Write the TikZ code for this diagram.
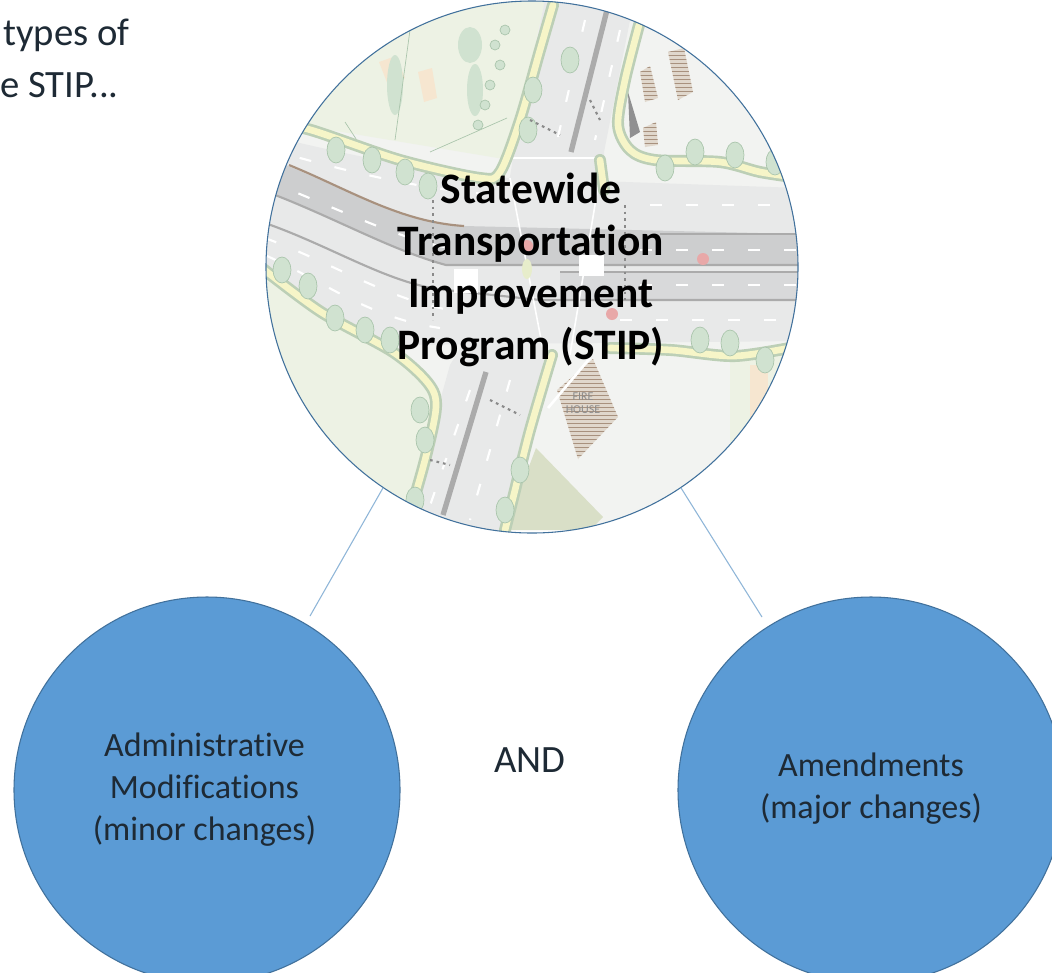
\documentclass[tikz,border=0pt]{standalone}
\usepackage{fontspec}
\setmainfont{Carlito}[Ligatures=CommonOff]
\usetikzlibrary{patterns}
\definecolor{blueA}{HTML}{5B9BD5}
\definecolor{blueB}{HTML}{41719C}
\definecolor{lineA}{HTML}{8FB6D8}
\definecolor{inkA}{HTML}{1E2A35}
\definecolor{roadA}{HTML}{E8E9E9}
\definecolor{roadB}{HTML}{CDCECF}
\definecolor{roadC}{HTML}{ABABAB}
\definecolor{walkA}{HTML}{F6F5C8}
\definecolor{walkB}{HTML}{BCCFB6}
\definecolor{treeA}{HTML}{D0E2D0}
\definecolor{treeB}{HTML}{A9C4AB}
\definecolor{landA}{HTML}{F2F3F1}
\definecolor{landB}{HTML}{EDF2E4}
\definecolor{landC}{HTML}{D9DFC7}
\definecolor{lotA}{HTML}{F6E6D0}
\definecolor{hatchA}{HTML}{A8917E}
\definecolor{hatchB}{HTML}{E0D7CC}
\definecolor{markA}{HTML}{8A8A8A}
\definecolor{redA}{HTML}{E8A8A8}
\newcommand{\hatchpatch}[1]{\fill[hatchB] #1; \fill[hatched] #1;}
\tikzset{
  x=0.75pt,y=-0.75pt,
  blobcircle/.style={circle,fill=blueA,draw=blueB,line width=0.8pt,minimum size=289.5pt,inner sep=0pt},
  mapcircle/.style={circle,draw=blueB,line width=0.8pt,minimum size=399pt,inner sep=0pt},
  link/.style={draw=lineA,line width=0.8pt},
  bodytext/.style={font=\fontsize{25.5}{31.5}\selectfont,text=inkA,align=center},
  plaintext/.style={font=\fontsize{29}{37.5}\selectfont,text=inkA},
  titletext/.style={font=\fontsize{32.6}{39}\selectfont\bfseries,align=center},
  walkcase/.style={draw=walkB,line width=9pt,line join=round,line cap=round},
  walkcore/.style={draw=walkA,line width=5pt,line join=round,line cap=round},
  lanedash/.style={draw=white,line width=1.6pt,dash pattern=on 9pt off 18pt},
  tree/.style={fill=treeA,draw=treeB,line width=0.5pt},
  marks/.style={draw=markA,line width=1.6pt,dash pattern=on 2pt off 3pt},
  hatched/.style={pattern=horizontal lines,pattern color=hatchA},
  edgeline/.style={draw=roadC,line width=1.6pt},
}
\begin{document}
\begin{tikzpicture}
\useasboundingbox (0,0) rectangle (1052,972);
\fill[white] (0,0) rectangle (1052,972);

% aerial plan inside the top circle
\begin{scope}
\clip (532,267) circle [radius=266];
\fill[landA] (260,0) rectangle (800,530);
\fill[landB] (260,0) -- (545,0) -- (510,160) -- (300,125) -- (260,130) -- cycle;
\fill[landB] (262,272) -- (321,312) -- (393,352) -- (430,385) -- (436,407) -- (408,530) -- (262,530) -- cycle;
\fill[landB] (730,350) -- (800,350) -- (800,450) -- (730,450) -- cycle;
\fill[landC] (536,448) -- (603,517) -- (590,530) -- (505,530) -- cycle;
\fill[lotA] (379,62) -- (396,56) -- (405,78) -- (388,85) -- cycle;
\fill[lotA] (418,72) -- (432,68) -- (437,98) -- (424,102) -- cycle;
\fill[lotA] (750,365) -- (768,365) -- (768,420) -- (750,420) -- cycle;
\hatchpatch{(668,52) -- (684,48) -- (693,92) -- (678,100) -- cycle}
\hatchpatch{(640,72) -- (650,66) -- (658,98) -- (645,102) -- cycle}
\hatchpatch{(643,128) -- (656,122) -- (658,145) -- (645,147) -- cycle}
\fill[roadB!70!black] (628,92) -- (640,132) -- (630,138) -- cycle;
\fill[treeA] (395,85) ellipse [x radius=8,y radius=30];
\fill[treeA] (475,90) ellipse [x radius=8,y radius=26];
\fill[treeA] (470,45) ellipse [x radius=12,y radius=18];
\foreach \a/\b in {495/45,500/65,490/85,485/105,478/125,505/30}
  \draw[tree] (\a,\b) circle [radius=5];
\draw[treeB,line width=0.5pt] (430,152) -- (507,118) (345,122) -- (360,145) (410,30) -- (395,140);

% roads
\fill[roadA] (260,134) .. controls (340,152) and (420,172) .. (510,178) -- (800,188)
  -- (800,341) -- (393,345) .. controls (350,330) and (300,300) .. (260,268) -- cycle;
\fill[roadA] (546,-5) -- (635,-5) -- (604,152) -- (604,190) -- (546,350) -- (507,530) -- (404,530) -- (450,365) -- (490,300) -- (514,152) -- cycle;
\fill[roadB] (260,155) .. controls (340,185) and (400,222) .. (464,226) -- (800,234)
  -- (800,265) -- (446,265) .. controls (390,250) and (330,215) .. (260,188) -- cycle;
\fill[roadB!60!roadA] (560,272) -- (800,272) -- (800,300) -- (560,300) -- cycle;
\draw[edgeline] (262,222) .. controls (330,245) and (390,285) .. (446,290) -- (540,300) -- (800,300);
\draw[edgeline] (800,265) -- (446,265) .. controls (390,250) and (330,215) .. (262,190);
\draw[edgeline] (800,272) -- (560,272);
\draw[edgeline,draw=hatchA] (289,165) .. controls (350,190) and (400,222) .. (464,226);
\draw[edgeline] (800,234) -- (660,234);
\draw[roadC,line width=4pt] (607,10) -- (571,152);
\draw[roadC,line width=4pt] (486,372) -- (443,515);
\draw[lanedash] (265,148) .. controls (340,170) and (420,190) .. (500,195);
\draw[lanedash] (265,180) .. controls (330,205) and (400,240) .. (450,248);
\draw[lanedash] (265,238) .. controls (330,262) and (390,300) .. (450,310);
\draw[lanedash] (265,255) .. controls (330,285) and (370,318) .. (440,328);
\draw[lanedash] (650,205) -- (800,205);
\draw[lanedash] (640,250) -- (800,250);
\draw[lanedash] (640,285) -- (800,285);
\draw[lanedash] (620,320) -- (800,320);
\draw[lanedash] (585,20) -- (555,150);
\draw[lanedash] (620,30) -- (595,140);
\draw[lanedash] (470,390) -- (425,520);
\draw[lanedash] (510,380) -- (470,520);
\draw[white,line width=1.2pt] (510,158) -- (600,158) (510,178) -- (545,360) (600,175) -- (570,355);
\fill[white] (454,269) rectangle (478,293);
\fill[white] (579,255) rectangle (604,276);

% sidewalks
\foreach \s in {walkcase,walkcore}{
  \draw[\s] plot[smooth] coordinates {(262,120) (311,130) (400,160) (480,178) (500,172) (520,120) (540,50) (553,5)};
  \draw[\s] plot[smooth] coordinates {(639,25) (625,80) (618,125) (630,150) (655,160) (720,162) (760,172) (800,178)};
  \draw[\s] plot[smooth] coordinates {(262,268) (321,312) (393,352) (428,383) (436,407) (425,460) (405,530)};
  \draw[\s] plot[smooth] coordinates {(800,346) (735,356) (671,350) (610,348)};
  \draw[\s] plot[smooth] coordinates {(552,355) (530,430) (515,490) (505,530)};
  \draw[\s] plot[smooth] coordinates {(600,160) (604,190)};
}
\foreach \a/\b in {336/150,372/160,405/172,428/186,695/152,735/155,665/168,775/162,
                   282/270,308/286,335/318,365/330,390/340,700/340,730/343,765/360,
                   420/410,425/440,520/470,505/510,415/500,570/60,533/90,528/130}
  \draw[tree] (\a,\b) circle [x radius=9,y radius=13];

% details
\draw[marks] (530,120) -- (560,135);
\draw[marks] (590,100) -- (600,120);
\draw[marks] (490,400) -- (520,415);
\draw[marks] (430,460) -- (450,465);
\draw[marks] (433,200) -- (433,320);
\draw[marks] (625,205) -- (625,300);
\fill[redA] (527,246) circle [radius=6];
\fill[redA] (703,259) circle [radius=6];
\fill[redA] (612,314) circle [radius=6];
\fill[walkA!60!treeA] (527,269) ellipse [x radius=5,y radius=10];

% fire house
\hatchpatch{(593,359) -- (618,417) -- (578,459) -- (557,390) -- cycle}
\draw[white,line width=2pt] (548,408) -- (590,358);
\node[text=black!45,font=\fontsize{9}{10}\selectfont,align=center] (firehouse) at (583,403) {FIRE\\HOUSE};
\end{scope}

\node[mapcircle] (stip) at (532,267) {};
\node[titletext] (stiplabel) at (531,270) {Statewide\\Transportation\\Improvement\\Program (STIP)};
\node[blobcircle] (admin) at (207,790) {};
\node[bodytext] (adminlabel) at (204.5,790) {Administrative\\Modifications\\(minor changes)};
\node[blobcircle] (amend) at (871,790) {};
\node[bodytext] (amendlabel) at (871,789) {Amendments\\(major changes)};
\node[plaintext,inner sep=0pt] (and) at (530,760) {AND};
\node[plaintext,anchor=west,inner sep=0pt] (introa) at (3,35) {types of};
\node[plaintext,anchor=west,inner sep=0pt] (introb) at (0,85) {e STIP...};

\coordinate (adminend) at (310,616);
\coordinate (amendend) at (762,617);
\draw[link] (stip.236) -- (adminend);
\draw[link] (stip.304) -- (amendend);
\end{tikzpicture}
\end{document}
